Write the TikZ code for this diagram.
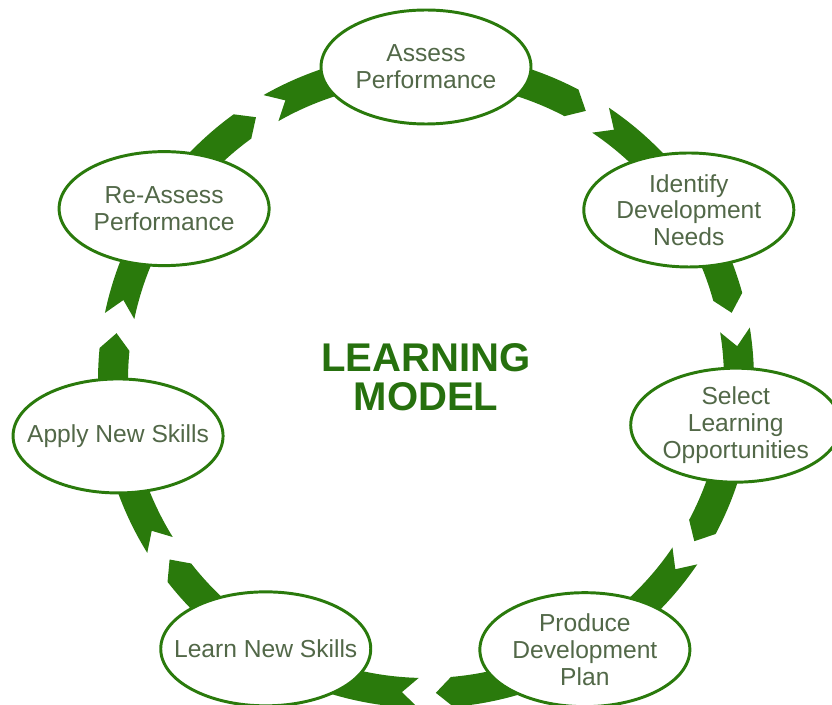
\documentclass[tikz,border=0pt]{standalone}
\usepackage{fontspec}
\setmainfont{Liberation Sans}
\usetikzlibrary{shapes.geometric, calc}

\definecolor{leafgreen}{RGB}{42,122,12}
\definecolor{labelgray}{RGB}{82,104,72}
\definecolor{titlegreen}{RGB}{38,112,14}

\begin{document}
\begin{tikzpicture}[
    x=0.25mm, y=0.25mm,
    % Styles
    stage/.style={ellipse, draw=leafgreen, line width=2.1pt, fill=white, minimum width=52.5mm, minimum height=28.5mm, inner xsep=-30mm, inner ysep=-20mm, align=center, text=labelgray, font={\fontsize{17.5}{19}\selectfont}},
    link/.style={fill=leafgreen},
    title/.style={align=center, text=titlegreen, font={\fontsize{28.5}{28}\selectfont\bfseries}}
]
    \useasboundingbox (0,0) rectangle (832,704);
    \clip (0,0) rectangle (832,704);

    % Middle of the ring
    \coordinate (hub) at (426,324);

    % Broken arrows round the ring: stage angle / gap angle / next stage angle
    \foreach \a/\g/\b in {90/57.7/32.9, 32.9/10.8/-8.3, -8.3/-32.6/-59.5, -59.5/-89.8/-120.8, -120.8/-146.6/-169.7, -169.7/-190.2/-213.2, -213.2/-238.7/-270} {
        % pointed half
        \fill[link, shift={(hub)}] (\a:328) arc[start angle=\a, end angle=\g+4.6, radius=328]
            -- (\g+1.6:313) -- (\g+4.6:298) arc[start angle=\g+4.6, end angle=\a, radius=298] -- cycle;
        % notched half
        \fill[link, shift={(hub)}] (\g-1.6:328) -- (\g-4.6:313) -- (\g-1.6:298)
            arc[start angle=\g-1.6, end angle=\b, radius=298] -- (\b:328)
            arc[start angle=\b, end angle=\g-1.6, radius=328] -- cycle;
    }

    % Stages
    \node[stage] (assess) at ($(hub)+(90:313)$) {Assess\\Performance};
    \node[stage] (identify) at ($(hub)+(32.9:313)$) {Identify\\Development\\Needs};
    \node[stage] (select) at ($(hub)+(-8.3:313)$) {Select\\Learning\\Opportunities};
    \node[stage] (produce) at ($(hub)+(-59.5:313)$) {Produce\\Development\\Plan};
    \node[stage] (learn) at ($(hub)+(-120.8:313)$) {Learn New Skills};
    \node[stage] (apply) at ($(hub)+(-169.7:313)$) {Apply New Skills};
    \node[stage] (reassess) at ($(hub)+(146.8:313)$) {Re-Assess\\Performance};

    \node[title] (model) at (426,327) {LEARNING\\MODEL};
\end{tikzpicture}
\end{document}
